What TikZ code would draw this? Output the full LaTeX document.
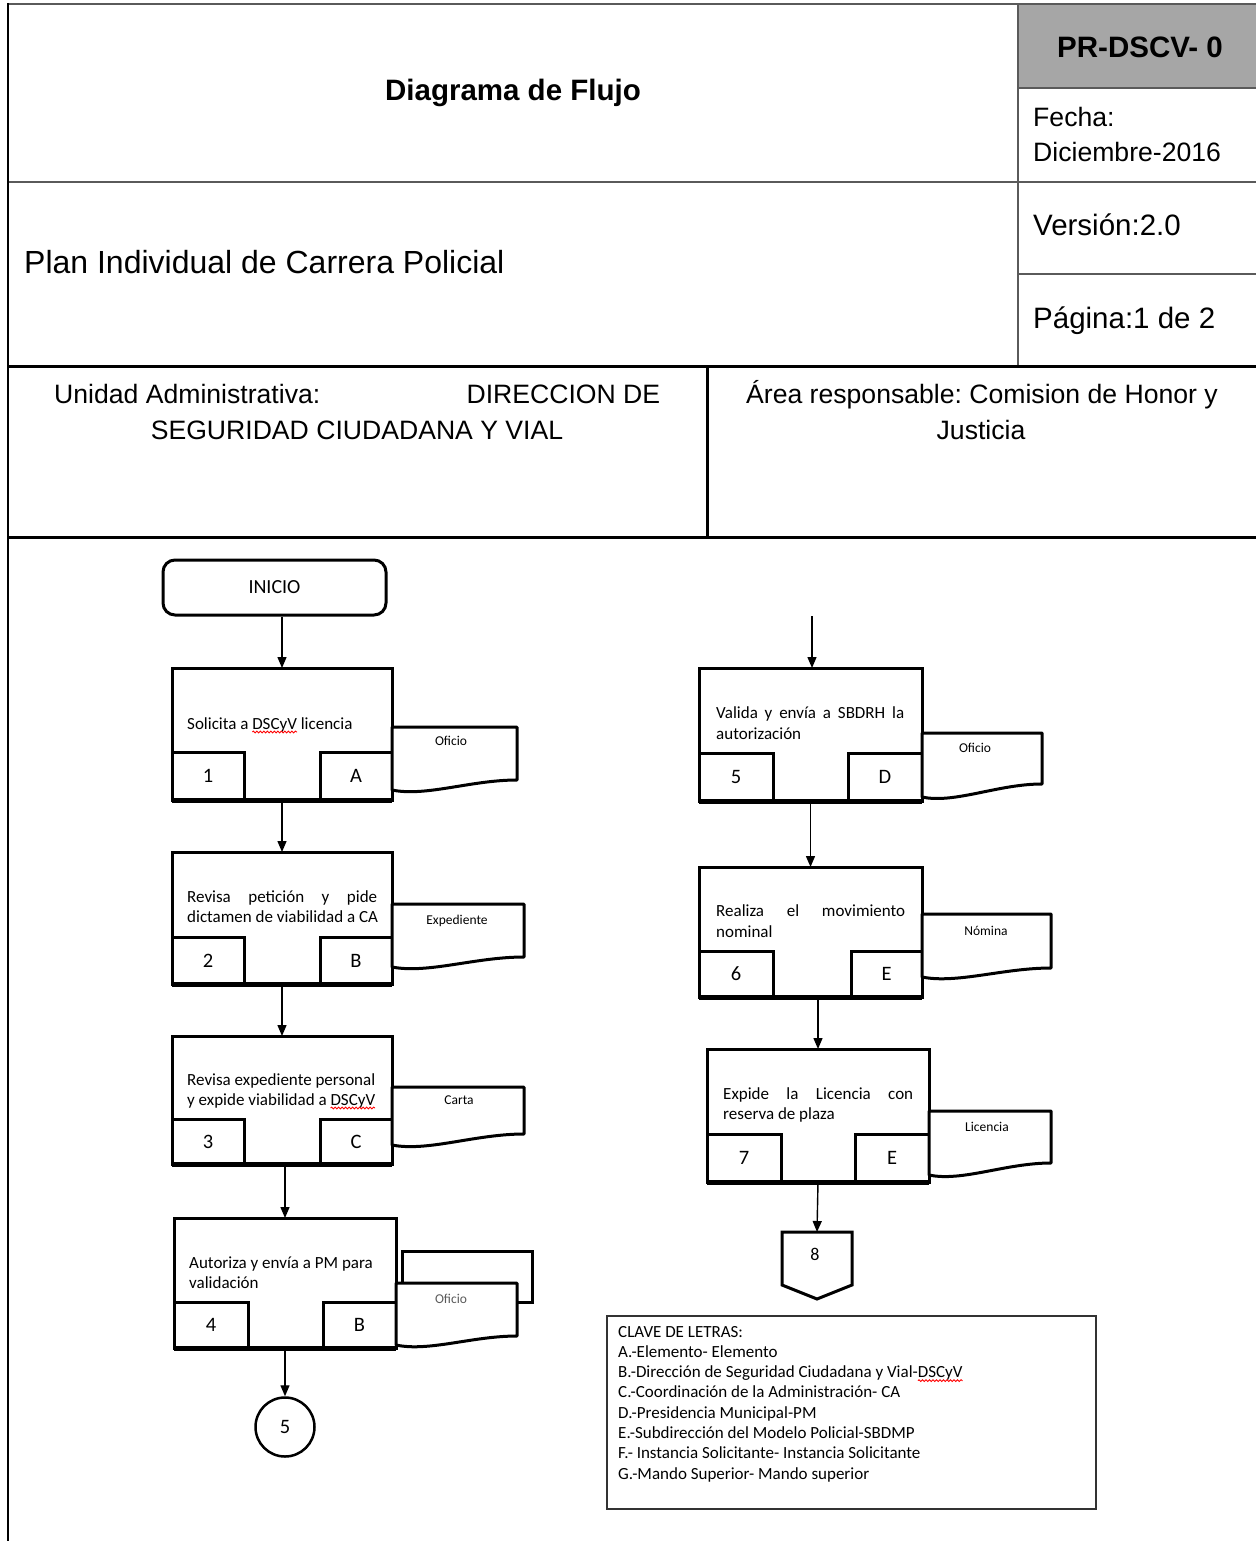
\documentclass[tikz,border=0pt]{standalone}
\usepackage{fontspec}
\setmainfont{Liberation Sans}
\newfontfamily\calfont{Carlito}
\usetikzlibrary{arrows.meta,decorations.pathmorphing}
\frenchspacing
\definecolor{hdrgray}{RGB}{166,166,166}
\definecolor{linegray}{RGB}{90,90,90}
\newlength\sqw
\newcommand\sq[1]{\settowidth\sqw{#1}#1\tikz[overlay]\draw[red,line width=0.9pt,decorate,decoration={snake,amplitude=0.9pt,segment length=3.5pt}] (-\sqw,-3pt) -- (0pt,-3pt);}
\newcommand\hdr{\fontsize{26.6}{32}\selectfont}
\newcommand\hdrb{\fontsize{29.5}{34}\selectfont}
\newcommand\fc{\calfont\fontsize{17}{20.5}\selectfont}
\newcommand\nf{\calfont\fontsize{20.5}{24}\selectfont}
\newcommand\dc{\calfont\fontsize{13.5}{16}\selectfont}
\newcommand\docpath[5]{%
  \pgfmathsetmacro\dw{#3-#1}%
  \draw[doc] (#1,#2) -- (#3,#2) -- (#3,#4) .. controls ({#1+0.63*\dw},#4) and ({#1+0.27*\dw},{#5+7}) .. (#1,#5) -- cycle;}
\begin{document}
\begin{tikzpicture}[x=1pt,y=-1pt,
  hline/.style={draw=linegray,line width=2.2pt},
  bline/.style={draw=black,line width=3pt},
  pbox/.style={draw,line width=3pt,inner sep=0,outer sep=0,anchor=north west},
  sbox/.style={draw,line width=3pt,inner sep=0,outer sep=0,font=\nf},
  arr/.style={line width=1.4pt,-{Triangle[length=11pt,width=9pt]}},
  doc/.style={draw,line width=3pt,fill=white,line join=round},
  hd/.style={inner sep=0,font=\hdr,anchor=base west},
  ftxt/.style={inner sep=0,font=\fc,anchor=base west},
  dtxt/.style={inner sep=0,font=\dc},
  thickbottom/.style={line width=5pt}]
\useasboundingbox (0,0) rectangle (1256,1541);
% ---------- header table ----------
\fill[hdrgray] (1018,4) rectangle (1256,88);
\draw[hline] (8,4) -- (1256,4);
\draw[hline] (8,182) -- (1256,182);
\draw[hline] (1018,4) -- (1018,366);
\draw[hline] (1018,88) -- (1256,88);
\draw[hline] (1018,274) -- (1256,274);
\draw[bline] (8,366) -- (1256,366);
\draw[bline] (707,366) -- (707,537);
\draw[bline] (8,537) -- (1256,537);
\draw[draw=black,line width=2.5pt] (8,3) -- (8,1541);

\node[hd,font=\bfseries\hdrb,anchor=base] (title) at (513,100.5) {Diagrama de Flujo};
\node[hd,font=\bfseries\hdrb,anchor=base] (code) at (1140,57.5) {PR-DSCV- 0};
\node[hd] (fecha) at (1033,127) {Fecha:};
\node[hd] (fecha2) at (1033,162) {Diciembre-2016};
\node[hd,font=\hdrb] (ver) at (1033,235.5) {Versión:2.0};
\node[hd,font=\fontsize{32}{38}\selectfont] (plan) at (24,273.5) {Plan Individual de Carrera Policial};
\node[hd,font=\hdrb] (pag) at (1033,328.5) {Página:1 de 2};
\node[hd] (unidad) at (54,403) {\makebox[606pt]{Unidad Administrativa:\hfill DIRECCION DE}};
\node[hd,anchor=base] (seg) at (357,439) {SEGURIDAD CIUDADANA Y VIAL};
\node[hd,anchor=base] (area) at (982,403) {Área responsable: Comision de Honor y};
\node[hd,anchor=base] (just) at (981,439) {Justicia};

% ---------- left column ----------
\node[draw,line width=3pt,rounded corners=12pt,minimum width=223,minimum height=55,inner sep=0,font=\calfont\fontsize{20}{24}\selectfont] (ini) at (274.5,587.5) {INICIO};

\node[pbox,minimum width=220,minimum height=132] (b1) at (172,668) {};
\node[sbox,minimum width=72,minimum height=48,anchor=south west] (b1n) at (172,800) {1};
\node[sbox,minimum width=72,minimum height=48,anchor=south east] (b1l) at (392,800) {A};
\draw[thickbottom] (b1.south west) -- (b1.south east);
\node[ftxt] (t1) at (187,729) {Solicita a \sq{DSCyV} licencia};
\docpath{392}{727}{517}{780}{790}
\node[dtxt] (d1) at (451,741) {Oficio};

\node[pbox,minimum width=220,minimum height=132] (b2) at (172,852) {};
\node[sbox,minimum width=72,minimum height=47,anchor=south west] (b2n) at (172,984) {2};
\node[sbox,minimum width=72,minimum height=47,anchor=south east] (b2l) at (392,984) {B};
\draw[thickbottom] (b2.south west) -- (b2.south east);
\node[ftxt] (t2a) at (187,902) {\makebox[190pt][s]{Revisa petición y pide}};
\node[ftxt] (t2b) at (187,922) {dictamen de viabilidad a CA};
\docpath{392}{904}{524}{957}{967}
\node[dtxt] (d2) at (457,921) {Expediente};

\node[pbox,minimum width=220,minimum height=128] (b3) at (172,1036) {};
\node[sbox,minimum width=72,minimum height=45,anchor=south west] (b3n) at (172,1164) {3};
\node[sbox,minimum width=72,minimum height=45,anchor=south east] (b3l) at (392,1164) {C};
\draw[thickbottom] (b3.south west) -- (b3.south east);
\node[ftxt] (t3a) at (187,1085) {Revisa expediente personal};
\node[ftxt] (t3b) at (187,1105) {y expide viabilidad a \sq{DSCyV}};
\docpath{392}{1087}{524}{1134}{1145}
\node[dtxt] (d3) at (459,1100) {Carta};

\node[pbox,minimum width=222,minimum height=130] (b4) at (174,1218) {};
\node[sbox,minimum width=74,minimum height=46,anchor=south west] (b4n) at (174,1348) {4};
\node[sbox,minimum width=73,minimum height=46,anchor=south east] (b4l) at (396,1348) {B};
\draw[thickbottom] (b4.south west) -- (b4.south east);
\node[ftxt] (t4a) at (189,1268) {Autoriza y envía a PM para};
\node[ftxt] (t4b) at (189,1288) {validación};
\draw[line width=3pt] (402,1251) rectangle (532,1302);
\docpath{396}{1283}{517}{1336}{1345}
\node[dtxt,text=linegray] (d4) at (451,1299) {Oficio};

\node[draw,circle,line width=2.5pt,minimum size=59,inner sep=0,font=\nf] (c5) at (285,1427) {5};

% ---------- right column ----------
\coordinate (top5) at (812,616);
\node[pbox,minimum width=223,minimum height=133] (b5) at (699,668) {};
\node[sbox,minimum width=74,minimum height=48,anchor=south west] (b5n) at (699,801) {5};
\node[sbox,minimum width=74,minimum height=48,anchor=south east] (b5l) at (922,801) {D};
\draw[thickbottom] (b5.south west) -- (b5.south east);
\node[ftxt] (t5a) at (716,718) {\makebox[188pt][s]{Valida y envía a SBDRH la}};
\node[ftxt] (t5b) at (716,739) {autorización};
\docpath{922}{733}{1042}{784}{797}
\node[dtxt] (d5) at (975,748) {Oficio};

\node[pbox,minimum width=223,minimum height=130] (b6) at (699,867) {};
\node[sbox,minimum width=74,minimum height=46,anchor=south west] (b6n) at (699,997) {6};
\node[sbox,minimum width=71,minimum height=46,anchor=south east] (b6l) at (922,997) {E};
\draw[thickbottom] (b6.south west) -- (b6.south east);
\node[ftxt] (t6a) at (716,916) {\makebox[189pt][s]{Realiza el movimiento}};
\node[ftxt] (t6b) at (716,937) {nominal};
\docpath{922}{914}{1051}{968}{977}
\node[dtxt] (d6) at (986,931) {Nómina};

\node[pbox,minimum width=222,minimum height=133] (b7) at (707,1049) {};
\node[sbox,minimum width=74,minimum height=48,anchor=south west] (b7n) at (707,1182) {7};
\node[sbox,minimum width=74,minimum height=48,anchor=south east] (b7l) at (929,1182) {E};
\draw[thickbottom] (b7.south west) -- (b7.south east);
\node[ftxt] (t7a) at (723,1099) {\makebox[190pt][s]{Expide la Licencia con}};
\node[ftxt] (t7b) at (723,1119) {reserva de plaza};
\docpath{929}{1111}{1051}{1163}{1175}
\node[dtxt] (d7) at (987,1127) {Licencia};

\node[inner sep=0,outer sep=0,minimum width=70,minimum height=53,anchor=north] (p8) at (817,1232) {};
\draw[line width=3pt,line join=miter] (p8.north west) -- (p8.north east) -- (p8.south east) -- ([yshift=-14pt]p8.south) -- (p8.south west) -- cycle;
\node[inner sep=0,font=\calfont\fontsize{18}{22}\selectfont] (p8t) at (815,1254) {8};

% ---------- connectors ----------
\draw[arr] (b1.north |- ini.south) -- (b1.north);
\draw[arr] (b1.south) -- (b2.north);
\draw[arr] (b2.south) -- (b3.north);
\draw[arr] (b4.north |- b3.south) -- (b4.north);
\draw[arr] (b4.south) -- (c5.north);
\draw[arr] (top5) -- (top5 |- b5.north);
\draw[arr] (b5.south) -- (b6.north);
\draw[arr] (b7.north |- b6.south) -- (b7.north);
\draw[arr] (b7.south) -- (p8.north);

% ---------- legend ----------
\node[draw=black!80,line width=2pt,minimum width=489,minimum height=193,anchor=north west,inner sep=0] (leg) at (606,1315) {};
\foreach \t [count=\i from 0] in {{CLAVE DE LETRAS:},{A.-Elemento- Elemento},{B.-Dirección de Seguridad Ciudadana y Vial-\sq{DSCyV}},{C.-Coordinación de la Administración- CA},{D.-Presidencia Municipal-PM},{E.-Subdirección del Modelo Policial-SBDMP},{F.- Instancia Solicitante- Instancia Solicitante},{G.-Mando Superior- Mando superior}}
  \node[inner sep=0,anchor=base west,font=\calfont\fontsize{17}{19}\selectfont] (leg\i) at (618,{1337+20.3*\i}) {\t};
\end{tikzpicture}
\end{document}
